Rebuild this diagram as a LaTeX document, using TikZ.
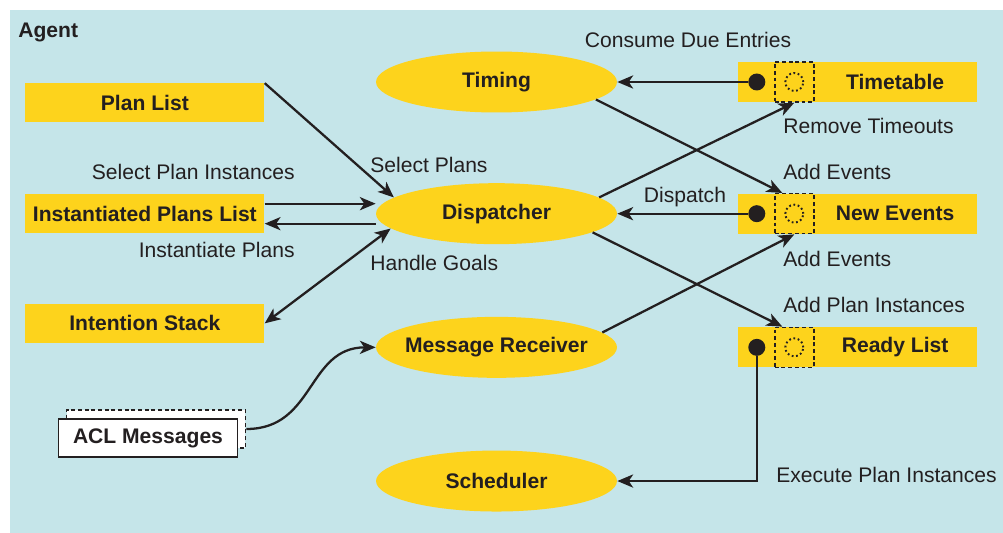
\documentclass[tikz,border=0pt]{standalone}
\usepackage{fontspec}
\setmainfont{Liberation Sans}
\usepackage{tikz}
\usetikzlibrary{arrows.meta}
\usetikzlibrary{shapes}
\usetikzlibrary{positioning}
\definecolor{agentblue}{HTML}{C5E5E9}
\definecolor{agentyellow}{HTML}{FDD31C}
\definecolor{ink}{HTML}{231F20}

\begin{document}
\begin{tikzpicture}[
x=0.02cm,y=-0.02cm,
font=\fontsize{12}{14}\selectfont,
text=ink,
myproc/.style={
ellipse,
fill=agentyellow,
inner ysep=0pt,
inner xsep=-1cm,
minimum width=4.82cm,
minimum height=1.22cm,
font=\fontsize{12}{14}\selectfont\bfseries},
mybox/.style={
rectangle,
fill=agentyellow,
inner sep=0pt,
minimum width=4.78cm,
minimum height=0.78cm,
font=\fontsize{12}{14}\selectfont\bfseries},
mystore/.style={
rectangle,
fill=agentyellow,
inner sep=0pt,
minimum width=4.78cm,
minimum height=0.8cm},
mystorelabel/.style={font=\fontsize{12}{14}\selectfont\bfseries, inner sep=0pt},
mydot/.style={circle, fill=ink, inner sep=0pt, minimum size=0.34cm},
myslot/.style={rectangle, draw=ink, line width=0.8pt, dash pattern=on 2.2pt off 1.6pt,
inner sep=0pt, minimum width=0.78cm, minimum height=0.8cm},
myring/.style={circle, draw=ink, line width=1.1pt, dash pattern=on 1pt off 1.5pt,
inner sep=0pt, minimum size=0.36cm},
mymsg/.style={rectangle, fill=white, draw=ink, line width=1.1pt, inner sep=0pt,
minimum width=3.58cm, minimum height=0.76cm, font=\fontsize{12}{14}\selectfont\bfseries},
mymsgback/.style={mymsg, dash pattern=on 2.2pt off 1.6pt},
mylabel/.style={inner sep=0pt},
myarrow/.style={draw=ink, line width=1.3pt, -{Stealth[length=9pt,width=7.5pt,inset=2.5pt]}},
mytwoarrow/.style={myarrow, {Stealth[length=9pt,width=7.5pt,inset=2.5pt]}-{Stealth[length=9pt,width=7.5pt,inset=2.5pt]}}
]
\useasboundingbox (0,0) rectangle (1003,533);
\fill[agentblue] (10,10) rectangle (1003,533);
\node[mylabel, anchor=west, font=\fontsize{12}{14}\selectfont\bfseries] (agent) at (18,32) {Agent};

% processes
\node[myproc] (tim) at (496.5,82) {Timing};
\node[myproc, below=1.4cm of tim] (dsp) {Dispatcher};
\node[myproc, below=1.44cm of dsp] (mrc) {Message Receiver};
\node[myproc, below=1.44cm of mrc] (sch) {Scheduler};

% lists on the left
\node[mybox, left=2.22cm of dsp] (ipl) {Instantiated Plans List};
\node[mybox, above=1.42cm of ipl] (pl) {Plan List};
\node[mybox, below=1.4cm of ipl] (is) {Intention Stack};

% stores on the right
\foreach \n/\m/\txt in {tt/tim/Timetable, ne/dsp/New Events, rl/mrc/Ready List} {
  \node[mystore, right=2.4cm of \m] (\n) {};
  \node[mystorelabel] (\n l) at ([xshift=0.76cm]\n.center) {\txt};
  \node[mydot] (\n d) at ([xshift=0.39cm]\n.west) {};
  \node[myslot] (\n s) at ([xshift=1.14cm]\n.west) {};
  \node[myring] (\n r) at (\n s) {};
}

% incoming messages
\node[mymsgback] (aclb) at (156,429) {};
\node[mymsg] (acl) at (148,438) {ACL Messages};

% connectors
\draw[myarrow] (pl.north east) -- (dsp.171);
\draw[myarrow] ([yshift=0.2cm]ipl.east) -- ([yshift=0.2cm]ipl.east -| dsp.west);
\draw[myarrow] ([yshift=-0.2cm]ipl.east -| dsp.west) -- ([yshift=-0.2cm]ipl.east);
\draw[mytwoarrow] (is.east) -- (dsp.188);
\draw[myarrow] (aclb.east) to[out=0, in=180, looseness=1.15] (mrc.west);
\draw[myarrow] (ttd) -- (tim.east);
\draw[myarrow] (ned) -- (dsp.east);
\draw[myarrow] (rld) |- (sch.east);
\draw[myarrow] (tim.-10) -- (nes.120);
\draw[myarrow] (dsp.9) -- (tts.south);
\draw[myarrow] (dsp.-11) -- (rls.120);
\draw[myarrow] (mrc.8) -- (nes.south);

% labels
\node[mylabel] (lcde) at (688,40) {Consume Due Entries};
\node[mylabel, anchor=west] (lrt) at (783,126) {Remove Timeouts};
\node[mylabel, anchor=west] (lae1) at (783,172) {Add Events};
\node[mylabel] (ldp) at (685,197) {Dispatch};
\node[mylabel, anchor=west] (lae2) at (783,259) {Add Events};
\node[mylabel, anchor=west] (lapi) at (783,305) {Add Plan Instances};
\node[mylabel, anchor=west] (lepi) at (776,475) {Execute Plan Instances};
\node[mylabel, anchor=east] (lspi) at (295,172) {Select Plan Instances};
\node[mylabel, anchor=east] (lip) at (295,250) {Instantiate Plans};
\node[mylabel, anchor=west] (lsp) at (370,165) {Select Plans};
\node[mylabel, anchor=west] (lhg) at (370,263) {Handle Goals};
\end{tikzpicture}
\end{document}
